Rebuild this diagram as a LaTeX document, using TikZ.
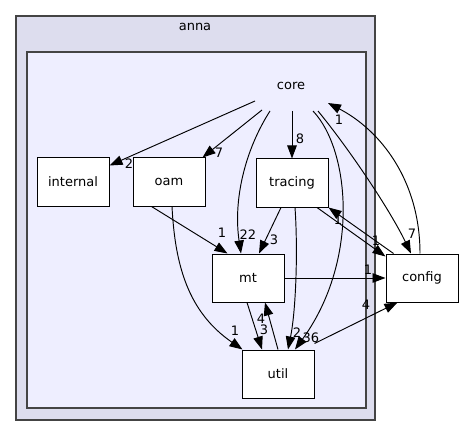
\documentclass[tikz,border=0pt]{standalone}
\usepackage{fontspec}
\setmainfont{DejaVu Sans}
\usetikzlibrary{arrows.meta}
\definecolor{outerfill}{HTML}{DDDDEE}
\definecolor{innerfill}{HTML}{EEEEFF}
\definecolor{clborder}{HTML}{444444}
\begin{document}
\begin{tikzpicture}[x=1pt,y=-1pt,
  dirbox/.style={draw=black,fill=white,line width=1pt,minimum width=72pt,minimum height=48pt,inner sep=0pt,font=\fontsize{13}{15}\selectfont},
  dep/.style={draw=black,line width=0.95pt,-{Triangle[length=13pt,width=9.5pt]}},
  lbl/.style={inner sep=0pt,font=\fontsize{13}{15}\selectfont},
  cl/.style={inner sep=0pt,font=\fontsize{13}{15}\selectfont}]
\useasboundingbox (0,0) rectangle (464,436);
\fill[white] (0,0) rectangle (464,436);
% clusters
\draw[clborder,fill=outerfill,line width=1.3pt] (16,16) rectangle (375,420);
\node[cl] (anna) at (195,27) {anna};
\draw[clborder,fill=innerfill,line width=1.3pt] (27,52) rectangle (366,408);
\node[cl,minimum width=80pt,minimum height=40pt] (core) at (291,91) {};
\node[cl] (corelbl) at (291,86) {core};
% nodes
\node[dirbox] (internal) at (73,182) {internal};
\node[dirbox] (oam) at (169,182) {oam};
\node[dirbox] (tracing) at (292,183) {tracing};
\node[dirbox] (mt) at (248,278) {mt};
\node[dirbox] (util) at (278,374) {util};
\node[dirbox] (config) at (422,278) {config};
% edges from core
\draw[dep] ([shift={(-36,10)}]core.center) -- ([yshift=-8pt]internal.north east);
\node[lbl] (l1) at (129,164) {2};
\draw[dep] ([shift={(-29,19)}]core.center) -- ([xshift=-3pt]oam.north east);
\node[lbl] (l2) at (219,153) {7};
\draw[dep] ([shift={(-21,20)}]core.center) .. controls (245,150) and (233,200) .. ([xshift=-7pt]mt.north);
\node[lbl] (l3) at (248,235) {22};
\draw[dep] ([shift={(1,20)}]core.center) -- (tracing.north);
\node[lbl] (l4) at (300,139) {8};
\draw[dep] ([shift={(22,20)}]core.center) .. controls (350,150) and (360,260) .. ([xshift=17pt]util.north);
\node[lbl] (l5) at (311,338) {36};
\draw[dep] ([shift={(27,20)}]core.center) .. controls (350,150) and (390,210) .. ([xshift=-11pt]config.north);
\node[lbl] (l6) at (412,234) {7};
\draw[dep] ([xshift=-2pt]config.north) .. controls (420,180) and (380,130) .. ([shift={(37,12)}]core.center);
\node[lbl] (l7) at (339,120) {1};
% other edges
\draw[dep] ([xshift=25pt]tracing.south) -- ([yshift=-3pt]config.north west);
\node[lbl] (l8) at (376,241) {1};
\draw[dep] ([xshift=8pt]config.north west) -- (tracing.south east);
\node[lbl] (l9) at (338,220) {1};
\draw[dep] (mt.east) -- (config.west);
\node[lbl] (l10) at (368,270) {1};
\draw[dep] ([yshift=6pt]util.north east) -- ([xshift=12pt]config.south west);
\node[lbl] (l11) at (366,305) {4};
\draw[dep] ([xshift=19pt]oam.south west) -- ([xshift=16pt]mt.north west);
\node[lbl] (l12) at (222,233) {1};
\draw[dep] ([xshift=3pt]oam.south) .. controls (175,265) and (188,312) .. ([xshift=1pt]util.north west);
\node[lbl] (l13) at (235,331) {1};
\draw[dep] ([xshift=-11pt]tracing.south) -- ([xshift=11pt]mt.north);
\node[lbl] (l14) at (274,240) {3};
\draw[dep] ([xshift=3pt]tracing.south) .. controls (298,250) and (296,310) .. ([xshift=10pt]util.north);
\node[lbl] (l15) at (297,333) {2};
\draw[dep] ([xshift=-1pt]mt.south) -- ([xshift=-16pt]util.north);
\node[lbl] (l16) at (264,330) {3};
\draw[dep] (util.north) -- ([xshift=17pt]mt.south);
\node[lbl] (l17) at (261,319) {4};
\end{tikzpicture}
\end{document}
